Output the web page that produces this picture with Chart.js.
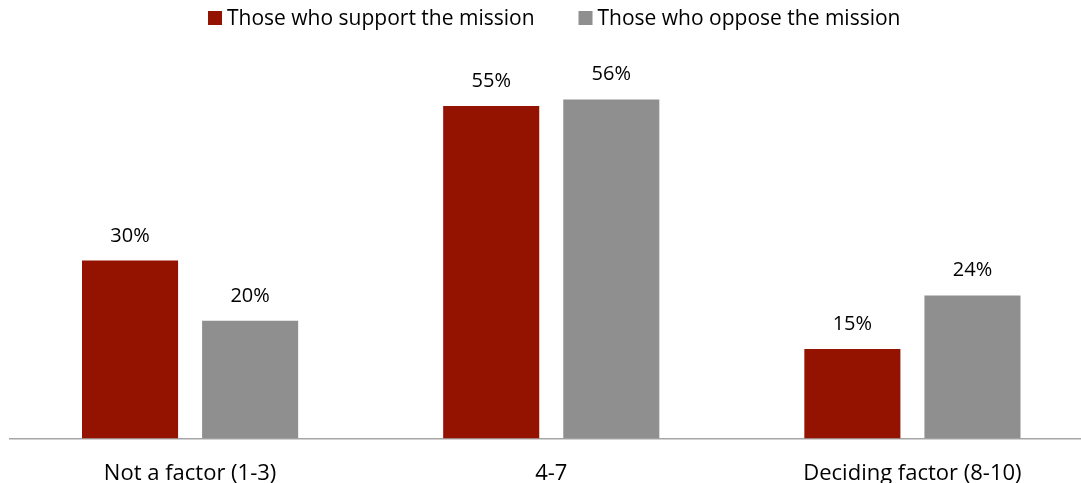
<!DOCTYPE html>
<html>
<head>
<meta charset="utf-8">
<script src="https://cdn.jsdelivr.net/npm/chart.js@4"></script>
<style>
  html, body { margin: 0; padding: 0; background: #fff; overflow: hidden; }
  #wrap { width: 1093px; height: 509px; }
</style>
</head>
<body>
<div id="wrap"><canvas id="myChart"></canvas></div>
<script>
// Chart data
const categories = ['Not a factor (1-3)', '4-7', 'Deciding factor (8-10)'];
const supportValues = [29.6, 55.3, 14.9];
const opposeValues = [19.6, 56.4, 23.8];
const seriesNames = ['Those who support the mission', 'Those who oppose the mission'];
const seriesColors = ['#941200', '#8f8f8f'];

const FONT = '"Open Sans", sans-serif';

// Percentage labels above each bar
const barLabels = {
  id: 'barLabels',
  afterDatasetsDraw(chart) {
    const ctx = chart.ctx;
    ctx.save();
    ctx.font = '20px ' + FONT;
    ctx.fillStyle = '#000';
    ctx.textAlign = 'center';
    ctx.textBaseline = 'alphabetic';
    chart.data.datasets.forEach((ds, i) => {
      chart.getDatasetMeta(i).data.forEach((bar, j) => {
        ctx.fillText(Math.round(ds.data[j]) + '%', bar.x, bar.y - 19);
      });
    });
    ctx.restore();
  }
};

// Simple legend row at the top (tight box-to-text spacing like the original)
const topLegend = {
  id: 'topLegend',
  afterDraw(chart) {
    const ctx = chart.ctx;
    const box = 14, gap = 5, itemGap = 44;
    ctx.save();
    ctx.font = '21px ' + FONT;
    const ds = chart.data.datasets;
    const widths = ds.map(d => box + gap + ctx.measureText(d.label).width);
    const total = widths.reduce((a, b) => a + b, 0) + itemGap * (ds.length - 1);
    const area = chart.chartArea;
    let x = (area.left + area.right) / 2 - total / 2 + 3;
    const cy = 18;
    ds.forEach((d, i) => {
      ctx.fillStyle = d.backgroundColor;
      ctx.fillRect(x, cy - box / 2, box, box);
      ctx.fillStyle = '#000';
      ctx.textBaseline = 'middle';
      ctx.textAlign = 'left';
      ctx.fillText(d.label, x + box + gap, cy + 1);
      x += widths[i] + itemGap;
    });
    ctx.restore();
  }
};

const ctx = document.getElementById('myChart').getContext('2d');
const myChart = new Chart(ctx, {
  type: 'bar',
  data: {
    labels: categories,
    datasets: [{
      label: seriesNames[0],
      data: supportValues,
      backgroundColor: seriesColors[0]
    }, {
      label: seriesNames[1],
      data: opposeValues,
      backgroundColor: seriesColors[1]
    }]
  },
  options: {
    responsive: true,
    maintainAspectRatio: false,
    animation: false,
    categoryPercentage: 0.665,
    barPercentage: 0.8,
    layout: { padding: { left: 9.5, right: 0, top: 47.7, bottom: 0 } },
    plugins: {
      legend: { display: false },
      tooltip: { enabled: false }
    },
    scales: {
      x: {
        grid: { display: false, drawTicks: false },
        border: { color: '#a6a6a6', width: 1.5 },
        ticks: { color: '#000', font: { family: FONT, size: 22 }, padding: 22 }
      },
      y: {
        display: false,
        min: 0,
        max: 65
      }
    }
  },
  plugins: [barLabels, topLegend]
});
</script>
</body>
</html>
